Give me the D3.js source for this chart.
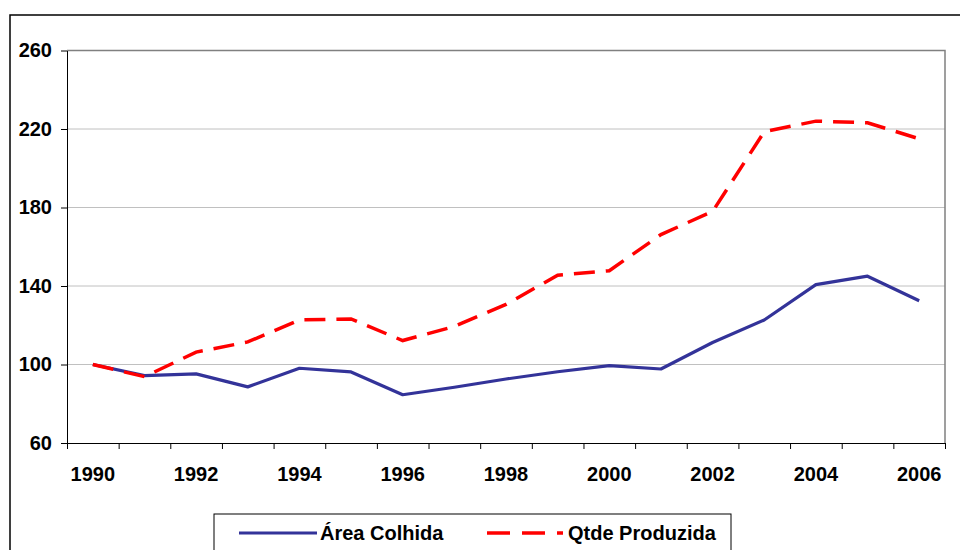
<!DOCTYPE html>
<html>
<head>
<meta charset="utf-8">
<script src="https://cdn.jsdelivr.net/npm/d3@7"></script>
<style>
  body { margin: 0; background: #fff; }
  svg { display: block; font-family: "Liberation Sans", Arial, sans-serif; }
  .axis text { font-size: 20px; font-weight: bold; fill: #000; }
  .legend text { font-size: 20px; font-weight: bold; fill: #000; }
</style>
</head>
<body>
<svg id="chart" width="960" height="550"></svg>
<script>
// data
var years = ['1990', '1991', '1992', '1993', '1994', '1995', '1996', '1997', '1998',
             '1999', '2000', '2001', '2002', '2003', '2004', '2005', '2006'];
var areaColhida = [100, 94.3, 95.2, 88.6, 98.1, 96.2, 84.6, 88.4, 92.6,
                   96.3, 99.4, 97.7, 111.2, 122.7, 140.7, 145, 132.5];
var qtdeProduzida = [100, 93.8, 106.3, 111.5, 122.7, 123.2, 112.2, 119.4, 130.6,
                     145.5, 147.8, 166.2, 178, 218.6, 224, 223.2, 215];
var yTicks = [60, 100, 140, 180, 220, 260];
var seriesNames = ['Área Colhida', 'Qtde Produzida'];

var svg = d3.select('#chart');
var m = { left: 67, top: 50.5, right: 945, bottom: 443 };

// outer chart frame (runs off the right and bottom edges)
svg.append('rect')
    .attr('x', 10).attr('y', 15)
    .attr('width', 1000).attr('height', 600)
    .attr('fill', 'none').attr('stroke', '#000').attr('stroke-width', 1.5);

var x = d3.scaleBand().domain(years).range([m.left, m.right]).padding(0);
var xEdge = d3.scaleLinear().domain([0, years.length]).range([m.left, m.right]);
var y = d3.scaleLinear().domain([60, 260]).range([m.bottom, m.top]);

// gridlines
svg.append('g')
    .selectAll('line')
    .data(yTicks.filter(function(d) { return d > 60 && d < 260; }))
    .enter().append('line')
    .attr('x1', m.left).attr('x2', m.right)
    .attr('y1', function(d) { return y(d); })
    .attr('y2', function(d) { return y(d); })
    .attr('stroke', '#c0c0c0').attr('stroke-width', 1);

// plot area border top/right
svg.append('path')
    .attr('d', 'M' + m.left + ',' + y(260) + 'H' + m.right + 'V' + m.bottom)
    .attr('fill', 'none').attr('stroke', '#808080').attr('stroke-width', 1.5);

// y axis
var yAxis = svg.append('g')
    .attr('class', 'axis')
    .attr('transform', 'translate(' + m.left + ',0)')
    .call(d3.axisLeft(y).tickValues(yTicks).tickSize(6).tickPadding(9).tickSizeOuter(0));
yAxis.selectAll('line, path').attr('stroke', '#000');

// x axis ticks at category edges
var xTickAxis = svg.append('g')
    .attr('class', 'axis')
    .attr('transform', 'translate(0,' + m.bottom + ')')
    .call(d3.axisBottom(xEdge).tickValues(d3.range(0, years.length + 1)).tickSize(6).tickSizeOuter(0).tickFormat(''));
xTickAxis.selectAll('line, path').attr('stroke', '#000');

// x labels, every other year
var xLabels = svg.append('g')
    .attr('class', 'axis')
    .attr('transform', 'translate(0,' + m.bottom + ')')
    .call(d3.axisBottom(x).tickSize(0).tickPadding(24)
        .tickFormat(function(d, i) { return i % 2 === 0 ? d : ''; }));
xLabels.select('.domain').remove();

var line = d3.line()
    .x(function(d, i) { return x(years[i]) + x.bandwidth() / 2; })
    .y(function(d) { return y(d); });

svg.append('path')
    .datum(areaColhida)
    .attr('d', line)
    .attr('fill', 'none').attr('stroke', '#333399').attr('stroke-width', 3.2)
    .attr('stroke-linejoin', 'round');

svg.append('path')
    .datum(qtdeProduzida)
    .attr('d', line)
    .attr('fill', 'none').attr('stroke', '#ff0000').attr('stroke-width', 3.5)
    .attr('stroke-dasharray', '21,11');

// legend
var lg = svg.append('g').attr('class', 'legend');
lg.append('rect')
    .attr('x', 214).attr('y', 514).attr('width', 517).attr('height', 60)
    .attr('fill', '#fff').attr('stroke', '#000').attr('stroke-width', 1);
lg.append('line')
    .attr('x1', 239).attr('x2', 317).attr('y1', 533).attr('y2', 533)
    .attr('stroke', '#333399').attr('stroke-width', 3.2);
lg.append('text').attr('x', 320).attr('y', 540).text(seriesNames[0]);
lg.append('line')
    .attr('x1', 487).attr('x2', 563).attr('y1', 533).attr('y2', 533)
    .attr('stroke', '#ff0000').attr('stroke-width', 3.5)
    .attr('stroke-dasharray', '23,12');
lg.append('text').attr('x', 568).attr('y', 540).text(seriesNames[1]);
</script>
</body>
</html>
